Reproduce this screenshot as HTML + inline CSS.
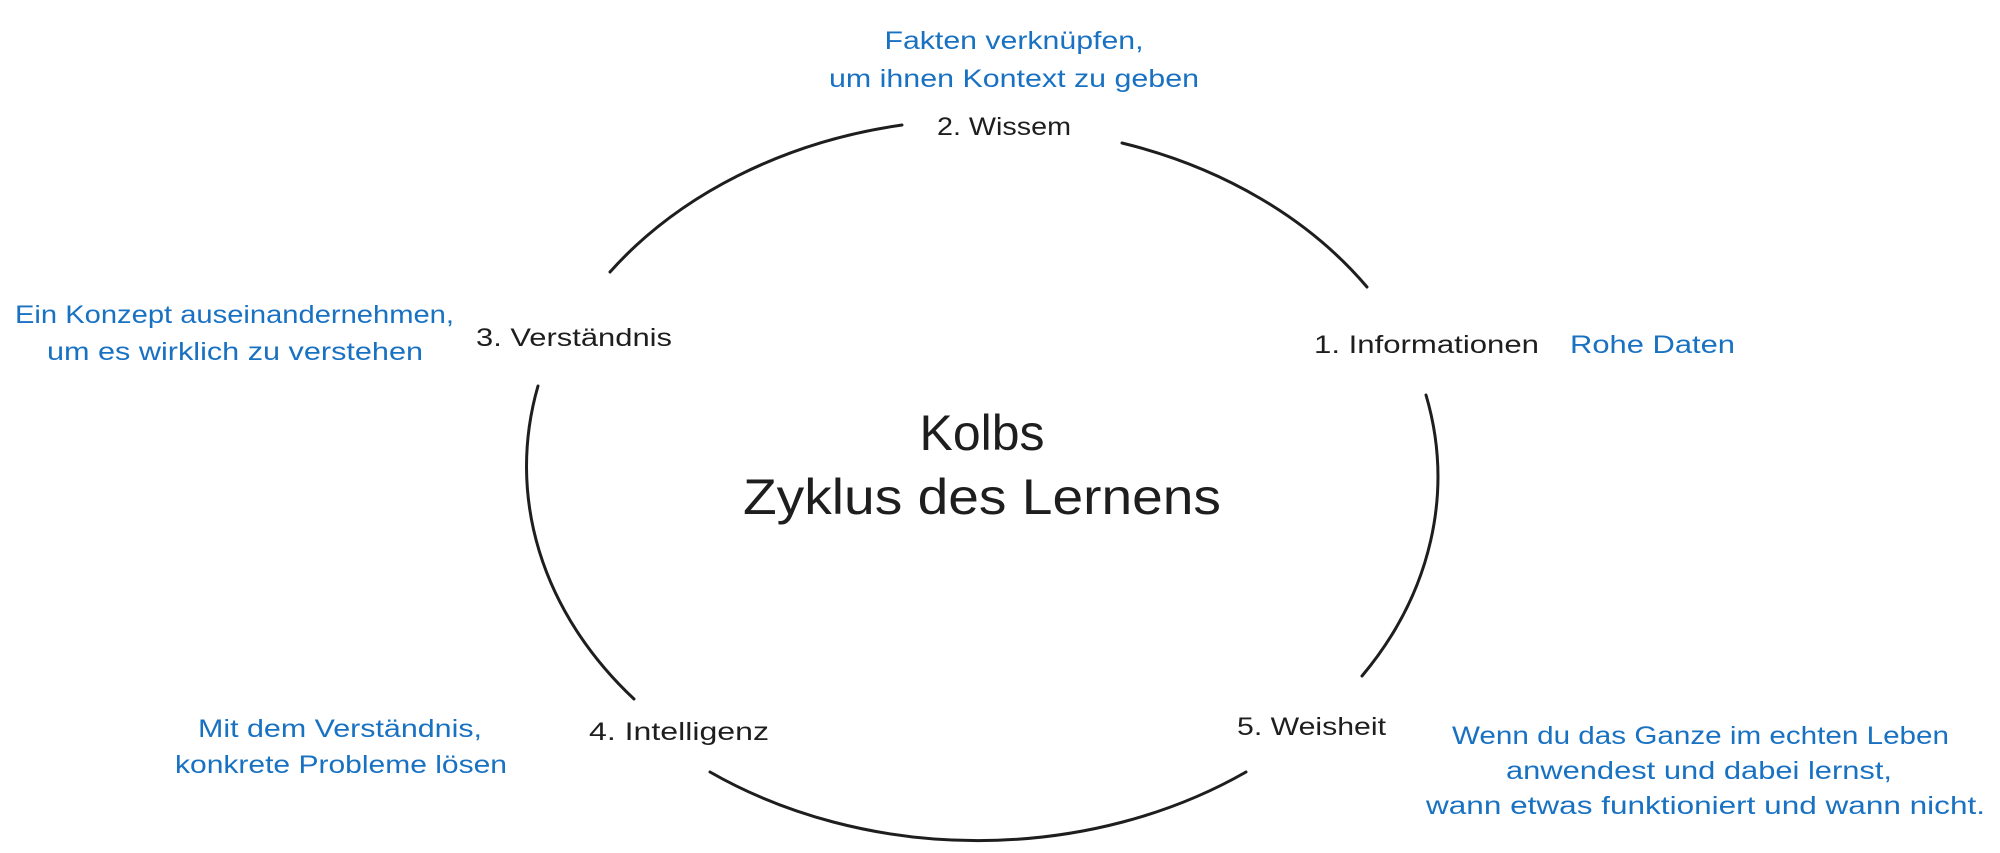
<!DOCTYPE html>
<html><head><meta charset="utf-8"><style>
html,body{margin:0;padding:0;background:#fff;}
svg{display:block;}
text{font-family:"Liberation Sans",sans-serif;}
.b{fill:#1971c2;font-size:25px;}
.k{fill:#1e1e1e;font-size:25px;}
.t{fill:#1e1e1e;font-size:50px;}
</style></head><body>
<svg width="2000" height="853" viewBox="0 0 2000 853" xmlns="http://www.w3.org/2000/svg">
<g fill="none" stroke="#1e1e1e" stroke-width="3" stroke-linecap="round">
<path d="M610 272 A457 361 0 0 1 902 125"/>
<path d="M1122 143 A457 361 0 0 1 1367 287"/>
<path d="M1426 395 A457 361 0 0 1 1362 676"/>
<path d="M1246 772 A457 361 0 0 1 710 772"/>
<path d="M634 699 A457 361 0 0 1 538 386"/>
</g>
<text class="b" x="1014" y="49" text-anchor="middle" textLength="259" lengthAdjust="spacingAndGlyphs">Fakten verknüpfen,</text>
<text class="b" x="1014" y="87" text-anchor="middle" textLength="370" lengthAdjust="spacingAndGlyphs">um ihnen Kontext zu geben</text>
<text class="k" x="937" y="135" textLength="134" lengthAdjust="spacingAndGlyphs">2. Wissem</text>
<text class="b" x="15" y="323" textLength="439" lengthAdjust="spacingAndGlyphs">Ein Konzept auseinandernehmen,</text>
<text class="b" x="47" y="360" textLength="376" lengthAdjust="spacingAndGlyphs">um es wirklich zu verstehen</text>
<text class="k" x="476" y="346" textLength="196" lengthAdjust="spacingAndGlyphs">3. Verständnis</text>
<text class="k" x="1314" y="353" textLength="225" lengthAdjust="spacingAndGlyphs">1. Informationen</text>
<text class="b" x="1570" y="353" textLength="165" lengthAdjust="spacingAndGlyphs">Rohe Daten</text>
<text class="t" x="982" y="450" text-anchor="middle" textLength="125" lengthAdjust="spacingAndGlyphs">Kolbs</text>
<text class="t" x="982" y="514" text-anchor="middle" textLength="478" lengthAdjust="spacingAndGlyphs">Zyklus des Lernens</text>
<text class="b" x="198" y="737" textLength="284" lengthAdjust="spacingAndGlyphs">Mit dem Verständnis,</text>
<text class="b" x="175" y="773" textLength="332" lengthAdjust="spacingAndGlyphs">konkrete Probleme lösen</text>
<text class="k" x="589" y="740" textLength="180" lengthAdjust="spacingAndGlyphs">4. Intelligenz</text>
<text class="k" x="1237" y="735" textLength="149" lengthAdjust="spacingAndGlyphs">5. Weisheit</text>
<text class="b" x="1452" y="744" textLength="497" lengthAdjust="spacingAndGlyphs">Wenn du das Ganze im echten Leben</text>
<text class="b" x="1506" y="779" textLength="386" lengthAdjust="spacingAndGlyphs">anwendest und dabei lernst,</text>
<text class="b" x="1426" y="814" textLength="559" lengthAdjust="spacingAndGlyphs">wann etwas funktioniert und wann nicht.</text>
</svg>
</body></html>
